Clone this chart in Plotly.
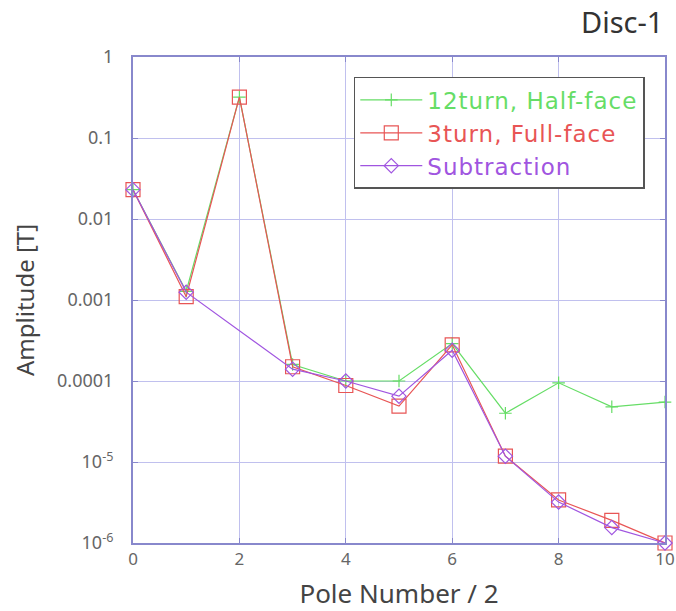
import plotly.graph_objects as go

x_vals = [0, 1, 2, 3, 4, 5, 6, 7, 8, 9, 10]
half_face = [0.023, 0.00128, 0.32, 1.6e-4, 1.0e-4, 1.0e-4, 2.9e-4, 4.0e-5, 9.5e-5, 4.8e-5, 5.5e-5]
full_face = [0.023, 0.00110, 0.32, 1.5e-4, 8.8e-5, 4.9e-5, 2.8e-4, 1.18e-5, 3.4e-6, 1.9e-6, 1.0e-6]
subtraction = [0.023, 0.00125, None, 1.4e-4, 1.0e-4, 6.5e-5, 2.4e-4, 1.18e-5, 3.2e-6, 1.55e-6, 1.0e-6]
names = ["12turn, Half-face", "3turn, Full-face", "Subtraction"]
colors = ["#66dd66", "#e85555", "#a055e0"]
y_tickvals = [1, 0.1, 0.01, 0.001, 0.0001, 1e-5, 1e-6]
y_ticktext = ["1", "0.1", "0.01", "0.001", "0.0001", "10<sup>-5</sup>", "10<sup>-6</sup>"]
x_tickvals = [0, 2, 4, 6, 8, 10]

fig = go.Figure()
series = [half_face, full_face, subtraction]
symbols = ["cross-thin-open", "square-open", "diamond-open"]
sizes = [9, 14, 11]
for name, ys, col, sym, sz in zip(names, series, colors, symbols, sizes):
    fig.add_trace(go.Scatter(
        x=x_vals, y=ys, mode="lines+markers",
        name='<span style="color:%s;letter-spacing:1px">%s</span>' % (col, name),
        line=dict(color=col, width=1.2),
        marker=dict(symbol=sym, size=sz, color=col, line=dict(color=col, width=1.2)),
        connectgaps=True, cliponaxis=False,
    ))

grid = "#c0c0ee"
axcol = "#8888cc"
fig.update_layout(
    width=676, height=611,
    margin=dict(l=133, r=11, t=57, b=68),
    paper_bgcolor="white", plot_bgcolor="white",
    font=dict(family="Noto Sans", color="#444"),
    showlegend=True,
    legend=dict(x=0.415, y=0.959, xanchor="left", yanchor="top",
                bgcolor="white", bordercolor="#555", borderwidth=1.5,
                font=dict(size=23, family="DejaVu Sans"), tracegroupgap=0, itemwidth=62),
    xaxis=dict(range=[0, 10], tickvals=x_tickvals, showgrid=True, gridcolor=grid,
               gridwidth=1, zeroline=False, showline=True, linecolor=axcol, linewidth=2,
               mirror="ticks", ticks="inside", ticklen=5, tickcolor=axcol,
               tickfont=dict(size=17, color="#666"), automargin=False,
               title=dict(text="Pole Number / 2", font=dict(size=26, color="#444"), standoff=15)),
    yaxis=dict(type="log", range=[-6, 0], tickvals=y_tickvals, ticktext=y_ticktext,
               showgrid=True, gridcolor=grid, gridwidth=1, zeroline=False,
               showline=True, linecolor=axcol, linewidth=2, mirror="ticks",
               ticks="inside", ticklen=5, tickcolor=axcol, ticklabelstandoff=14,
               tickfont=dict(size=18, color="#666"), automargin=False,
               title=dict(text="Amplitude [T]", font=dict(size=24, color="#444"), standoff=16)),
    annotations=[dict(text="Disc-1", xref="paper", yref="paper", x=1.0, y=1.0,
                      xanchor="right", yanchor="bottom", yshift=14, showarrow=False,
                      font=dict(size=29, color="#333"))],
)

fig.write_html("out.html")
